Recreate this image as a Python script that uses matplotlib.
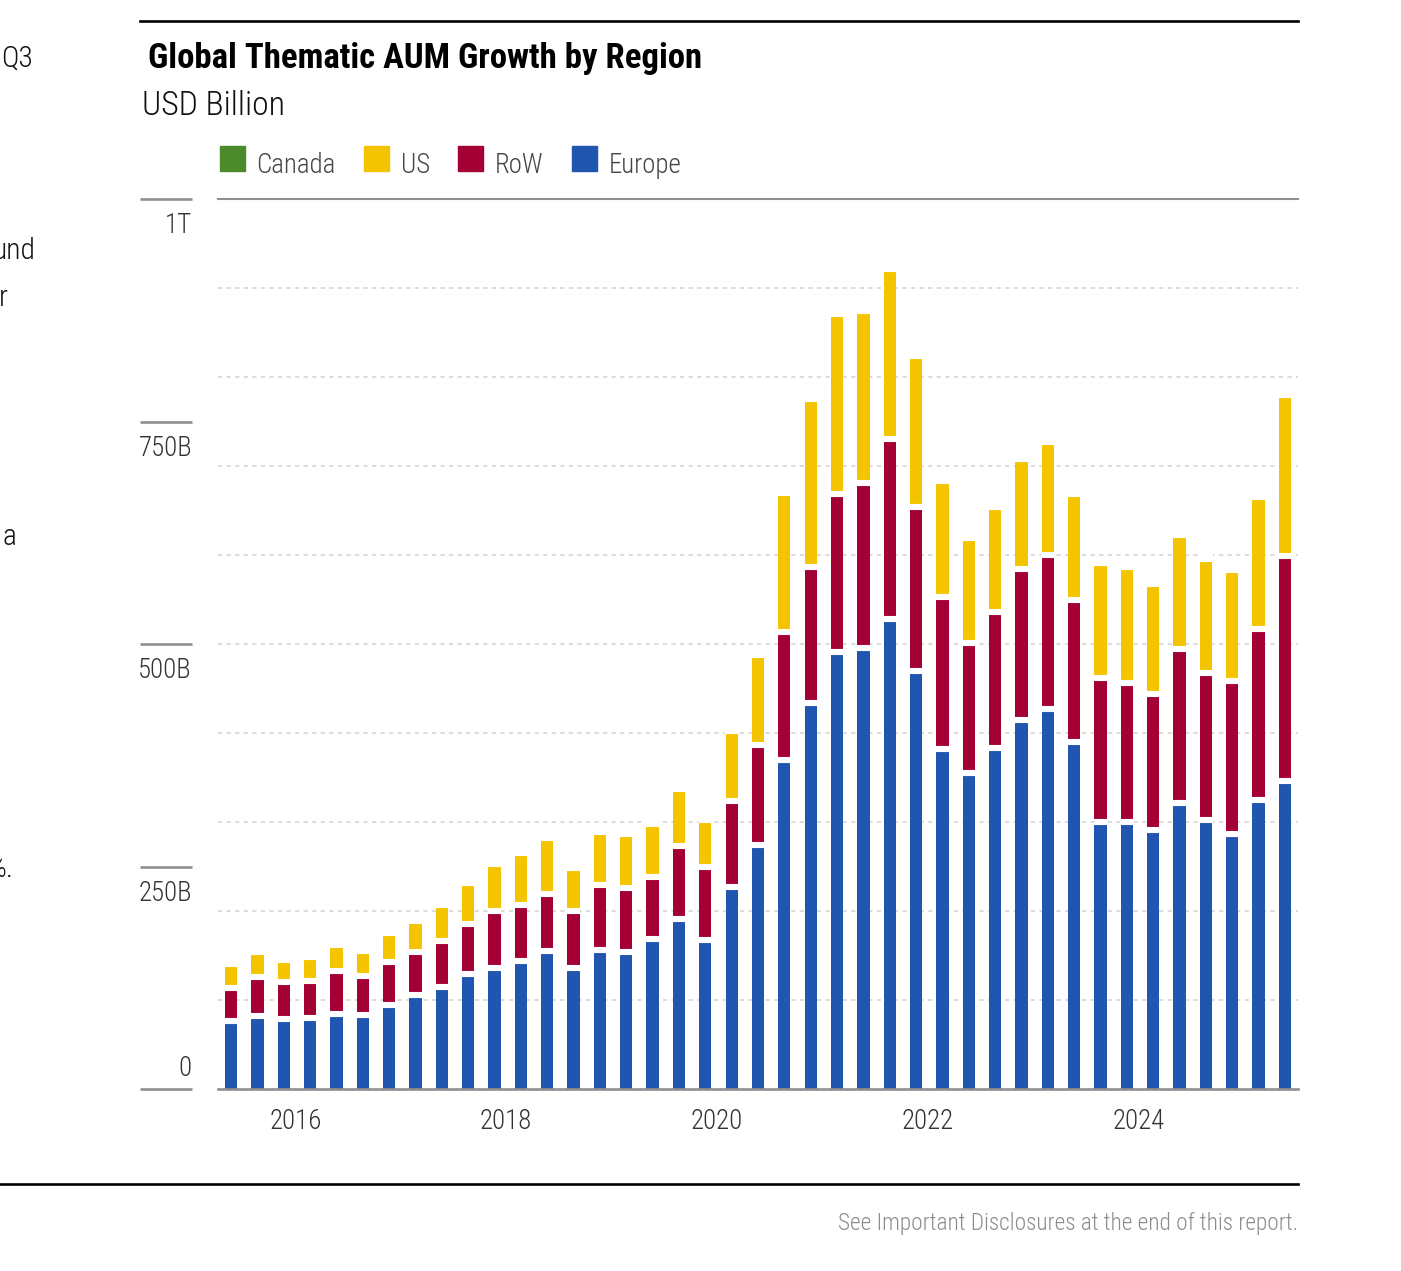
import numpy as np
import matplotlib
matplotlib.use("Agg")
import matplotlib.pyplot as plt
import matplotlib.transforms as mtransforms
from matplotlib.lines import Line2D
from matplotlib.patches import Rectangle

# quarterly AUM, USD billion, 2015Q3 .. 2025Q3
quarters = [f"{2015 + (i + 2) // 4}Q{(i + 2) % 4 + 1}" for i in range(41)]

europe = [76.6, 82.2, 79.4, 80.2, 84.3, 83.2, 94.4, 105.7, 115.3, 129.6,
          136.4, 144.0, 155.7, 135.8, 156.4, 154.1, 168.5, 191.3, 168.1, 227.0,
          274.0, 370.0, 434.3, 491.0, 495.5, 528.7, 469.7, 382.6, 354.9, 383.0,
          414.8, 427.8, 390.0, 299.8, 300.6, 291.5, 321.9, 302.8, 286.5, 324.9,
          346.6]
row = [37.6, 44.2, 41.2, 41.9, 48.5, 43.8, 48.5, 48.1, 50.8, 56.4,
       63.4, 63.3, 64.2, 64.0, 73.6, 72.1, 69.7, 82.5, 82.1, 97.0,
       112.5, 143.4, 152.5, 177.4, 185.3, 201.5, 185.1, 170.4, 146.1, 153.6,
       169.3, 172.1, 160.0, 161.8, 155.8, 152.1, 172.3, 164.4, 172.1, 191.8,
       252.9]
us = [27.0, 27.9, 25.1, 26.6, 29.1, 28.8, 32.4, 35.8, 40.6, 46.3,
      53.1, 57.9, 62.5, 48.9, 58.8, 61.1, 59.6, 63.6, 52.8, 78.6,
      101.9, 156.3, 188.6, 203.2, 194.2, 191.2, 168.9, 130.6, 118.1, 117.8,
      124.5, 127.7, 119.3, 130.2, 130.6, 124.6, 129.1, 128.7, 124.9, 149.2,
      180.4]
canada = [0.8, 0.9, 0.9, 0.9, 1.0, 1.0, 1.1, 1.2, 1.3, 1.4,
          1.5, 1.6, 1.7, 1.5, 1.7, 1.7, 1.8, 1.9, 1.7, 2.1,
          2.5, 3.0, 3.2, 3.3, 3.3, 3.4, 3.0, 2.6, 2.4, 2.5,
          2.6, 2.6, 2.4, 2.2, 2.2, 2.1, 2.3, 2.2, 2.1, 2.4,
          2.7]

y_ticks = [0, 250, 500, 750, 1000]
y_labels = ["0", "250B", "500B", "750B", "1T"]
year_labels = [2016, 2018, 2020, 2022, 2024]

colors = {"Europe": "#2156b0", "RoW": "#a50034", "US": "#f5c400", "Canada": "#4c8a2b"}

plt.rcParams["font.family"] = ["Roboto Condensed", "DejaVu Sans"]
LIGHT = "light"

W, H = 1401, 1271
fig = plt.figure(figsize=(W / 100, H / 100), dpi=100)
renderer = fig.canvas.get_renderer()


def fx(p):
    return p / W


def fy(p):
    return 1 - p / H


def fit(t, target):
    w = t.get_window_extent(renderer).width
    t.set_fontsize(t.get_fontsize() * target / w)
    return t.get_fontsize()


# size of the small labels, taken from the width of "Canada" in the legend
probe = fig.text(0, 0, "Canada", fontsize=20, fontweight=LIGHT)
small = fit(probe, 79)
probe.remove()

ax = fig.add_axes([fx(218), fy(1089.3), fx(1298) - fx(218), fy(199.3) - fy(1089.3)])
for s in ax.spines.values():
    s.set_visible(False)
ax.set_xticks([])
ax.set_yticks([])

x = np.array([int(q[:4]) + (int(q[-1]) - 1) / 4 for q in quarters])
bar_w = 0.1166

bottom = np.zeros(len(x))
for name, vals in [("Europe", europe), ("RoW", row), ("US", us), ("Canada", canada)]:
    vals = np.array(vals)
    ax.bar(x, vals, bar_w, bottom=bottom, color=colors[name], linewidth=0, zorder=2)
    bottom = bottom + vals
    # white separation between stacked pieces
    ax.hlines(bottom, x - bar_w * 0.55, x + bar_w * 0.55, colors="white",
              linewidth=4.4, zorder=3)

ax.set_xlim(x[0] - 0.125, x[-1] + 0.125)
ax.set_ylim(0, 1000)

for v in range(100, 1000, 100):
    ax.axhline(v, color="#dcdcdc", lw=1.4, dashes=(2.2, 2.2), zorder=1)
ax.axhline(1000, color="#8f8f8f", lw=1.5, zorder=1, clip_on=False)
ax.axhline(0, color="#8f8f8f", lw=1.9, zorder=4, clip_on=False)

trans = mtransforms.blended_transform_factory(ax.transAxes, ax.transData)
xa0, xa1 = (140 - 218) / 1080, (192 - 218) / 1080
for v, lab in zip(y_ticks, y_labels):
    ax.plot([xa0, xa1], [v, v], transform=trans, color="#8f8f8f", lw=1.9,
            clip_on=False, solid_capstyle="butt")
    off = 9.6 if v == 0 else -24.3
    ax.annotate(lab, xy=(xa1, v), xycoords=trans, xytext=(0, off),
                textcoords="offset points", ha="right", va="baseline",
                fontsize=small, fontweight=LIGHT, color="#333333",
                annotation_clip=False)

for yr in year_labels:
    ax.annotate(str(yr), xy=(yr + 0.11, 0), xytext=(0, -28.3),
                textcoords="offset points", ha="center", va="baseline",
                fontsize=small, fontweight=LIGHT, color="#333333",
                annotation_clip=False)

# title block
t = fig.text(fx(148), fy(68), "Global Thematic AUM Growth by Region",
             fontsize=28, fontweight="bold", color="black", va="baseline")
fit(t, 556)
t = fig.text(fx(142), fy(115), "USD Billion", fontsize=26, fontweight=LIGHT,
             color="#111111", va="baseline")
fit(t, 143)

# legend
lx = 220
for name in ["Canada", "US", "RoW", "Europe"]:
    fig.patches.append(Rectangle((fx(lx), fy(171)), 25 / W, 25 / H,
                                 transform=fig.transFigure, color=colors[name]))
    t = fig.text(fx(lx + 36.5), fy(173), name, fontsize=small, fontweight=LIGHT,
                 color="#444444", va="baseline")
    lx = lx + 36.5 + t.get_window_extent(renderer).width + 28.5

# frame lines and footer
fig.add_artist(Line2D([fx(140), fx(1298)], [fy(21), fy(21)],
                      transform=fig.transFigure, color="black", lw=1.9))
fig.add_artist(Line2D([fx(0), fx(1298)], [fy(1184), fy(1184)],
                      transform=fig.transFigure, color="black", lw=1.9))
t = fig.text(fx(1298), fy(1230), "See Important Disclosures at the end of this report.",
             fontsize=16, fontweight=LIGHT, color="#8c8c8c", ha="right", va="baseline")
fit(t, 460)

# cut-off body text at the left edge of the page
for s, xr, yb in [("Q3", 33, 67), ("und", 36, 259), ("r", 8, 306),
                  ("a", 16, 545), ("%.", 13, 877)]:
    fig.text(fx(xr), fy(yb), s, fontsize=small * 1.1, fontweight=LIGHT,
             color="#111111", ha="right", va="baseline")

fig.savefig("out.png", dpi=100)
